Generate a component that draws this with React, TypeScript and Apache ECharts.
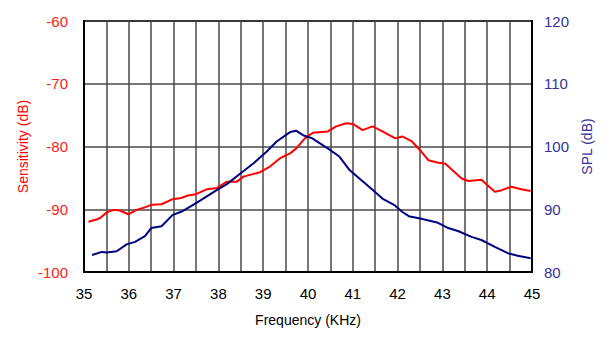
import React, { useEffect, useRef } from "react";
import * as echarts from "echarts";

const xTickLabels = ["35", "36", "37", "38", "39", "40", "41", "42", "43", "44", "45"];

const sensFreq = [35.10, 35.29, 35.36, 35.51, 35.66, 35.80, 35.99, 36.17, 36.36, 36.50, 36.73, 36.98, 37.17, 37.32, 37.50, 37.75, 37.97, 38.19, 38.41, 38.56, 38.93, 39.15, 39.37, 39.60, 39.74, 39.93, 40.11, 40.44, 40.63, 40.85, 41.00, 41.22, 41.44, 41.66, 41.95, 42.10, 42.32, 42.53, 42.69, 42.91, 43.06, 43.43, 43.58, 43.87, 44.17, 44.31, 44.54, 44.76, 44.97];
const sensValues = [-92.0, -91.6, -91.4, -90.5, -90.1, -90.2, -90.8, -90.1, -89.7, -89.3, -89.2, -88.4, -88.2, -87.8, -87.6, -86.8, -86.6, -85.6, -85.6, -84.8, -84.1, -83.2, -81.9, -81.1, -80.3, -78.7, -77.8, -77.6, -76.8, -76.3, -76.4, -77.4, -76.8, -77.6, -78.7, -78.4, -79.2, -80.8, -82.2, -82.6, -82.7, -85.1, -85.5, -85.3, -87.2, -87.0, -86.4, -86.8, -87.1];

const splFreq = [35.18, 35.40, 35.51, 35.73, 35.95, 36.14, 36.36, 36.50, 36.73, 36.98, 37.17, 37.39, 37.60, 37.97, 38.19, 38.49, 38.78, 39.08, 39.30, 39.60, 39.74, 39.89, 40.10, 40.18, 40.44, 40.70, 40.92, 41.18, 41.44, 41.66, 41.92, 42.10, 42.25, 42.53, 42.88, 43.13, 43.36, 43.65, 43.87, 44.17, 44.46, 44.68, 44.97];
const splValues = [82.7, 83.2, 83.1, 83.3, 84.4, 84.8, 85.7, 87.0, 87.3, 89.1, 89.6, 90.5, 91.4, 93.1, 94.0, 95.7, 97.3, 99.2, 100.8, 102.3, 102.5, 101.8, 101.3, 100.9, 99.7, 98.4, 96.3, 94.7, 93.1, 91.7, 90.7, 89.6, 88.9, 88.5, 87.9, 87.0, 86.5, 85.6, 85.1, 84.0, 83.0, 82.6, 82.2];

const FONT = "'Liberation Sans', Arial, sans-serif";

export default function App() {
  const ref = useRef<HTMLDivElement>(null);
  useEffect(() => {
    if (!ref.current) return;
    const chart = echarts.init(ref.current, null, { renderer: "svg" });
    const gridLine = { show: true, lineStyle: { color: "#4a4a4a", width: 1.5 } };
    chart.setOption({
      animation: false,
      backgroundColor: "#fff",
      grid: { left: 84, right: 79, top: 21, bottom: 68, show: true, borderColor: "#000", borderWidth: 2 },
      xAxis: {
        type: "value",
        min: 35,
        max: 45,
        interval: 0.5,
        name: "Frequency (KHz)",
        nameLocation: "middle",
        nameGap: 41,
        nameTextStyle: { color: "#000", fontSize: 14, fontFamily: FONT },
        axisLine: { show: true, lineStyle: { color: "#000", width: 2 } },
        axisTick: { show: false },
        splitLine: gridLine,
        axisLabel: {
          color: "#000",
          fontSize: 15,
          fontFamily: FONT,
          margin: 14,
          formatter: (v: number) => {
            const i = xTickLabels.indexOf(String(v));
            return i >= 0 ? xTickLabels[i] : "";
          },
        },
      },
      yAxis: [
        {
          type: "value",
          min: -100,
          max: -60,
          interval: 10,
          position: "left",
          name: "Sensitivity (dB)",
          nameLocation: "middle",
          nameGap: 54,
          nameMoveOverlap: false,
          nameTextStyle: { color: "#ff0000", fontSize: 14, fontFamily: FONT },
          axisLine: { show: true, lineStyle: { color: "#000", width: 2 } },
          axisTick: { show: false },
          splitLine: gridLine,
          axisLabel: { color: "#ff2020", fontSize: 15, fontFamily: FONT, margin: 16 },
        },
        {
          type: "value",
          min: 80,
          max: 120,
          interval: 10,
          position: "right",
          name: "SPL (dB)",
          nameLocation: "middle",
          nameGap: 48,
          nameTextStyle: { color: "#333399", fontSize: 14, fontFamily: FONT },
          axisLine: { show: true, lineStyle: { color: "#000", width: 2 } },
          axisTick: { show: false },
          splitLine: { show: false },
          axisLabel: { color: "#333399", fontSize: 15, fontFamily: FONT, margin: 12 },
        },
      ],
      series: [
        {
          type: "line",
          name: "Sensitivity",
          yAxisIndex: 0,
          data: sensFreq.map((f, i) => [f, sensValues[i]]),
          showSymbol: false,
          lineStyle: { color: "#ff0000", width: 2 },
          itemStyle: { color: "#ff0000" },
        },
        {
          type: "line",
          name: "SPL",
          yAxisIndex: 1,
          data: splFreq.map((f, i) => [f, splValues[i]]),
          showSymbol: false,
          lineStyle: { color: "#000080", width: 2 },
          itemStyle: { color: "#000080" },
        },
      ],
    });
    return () => chart.dispose();
  }, []);
  return (
    <div
      ref={ref}
      style={{ position: "fixed", left: 0, top: 0, width: 611, height: 340, background: "#fff" }}
    />
  );
}
